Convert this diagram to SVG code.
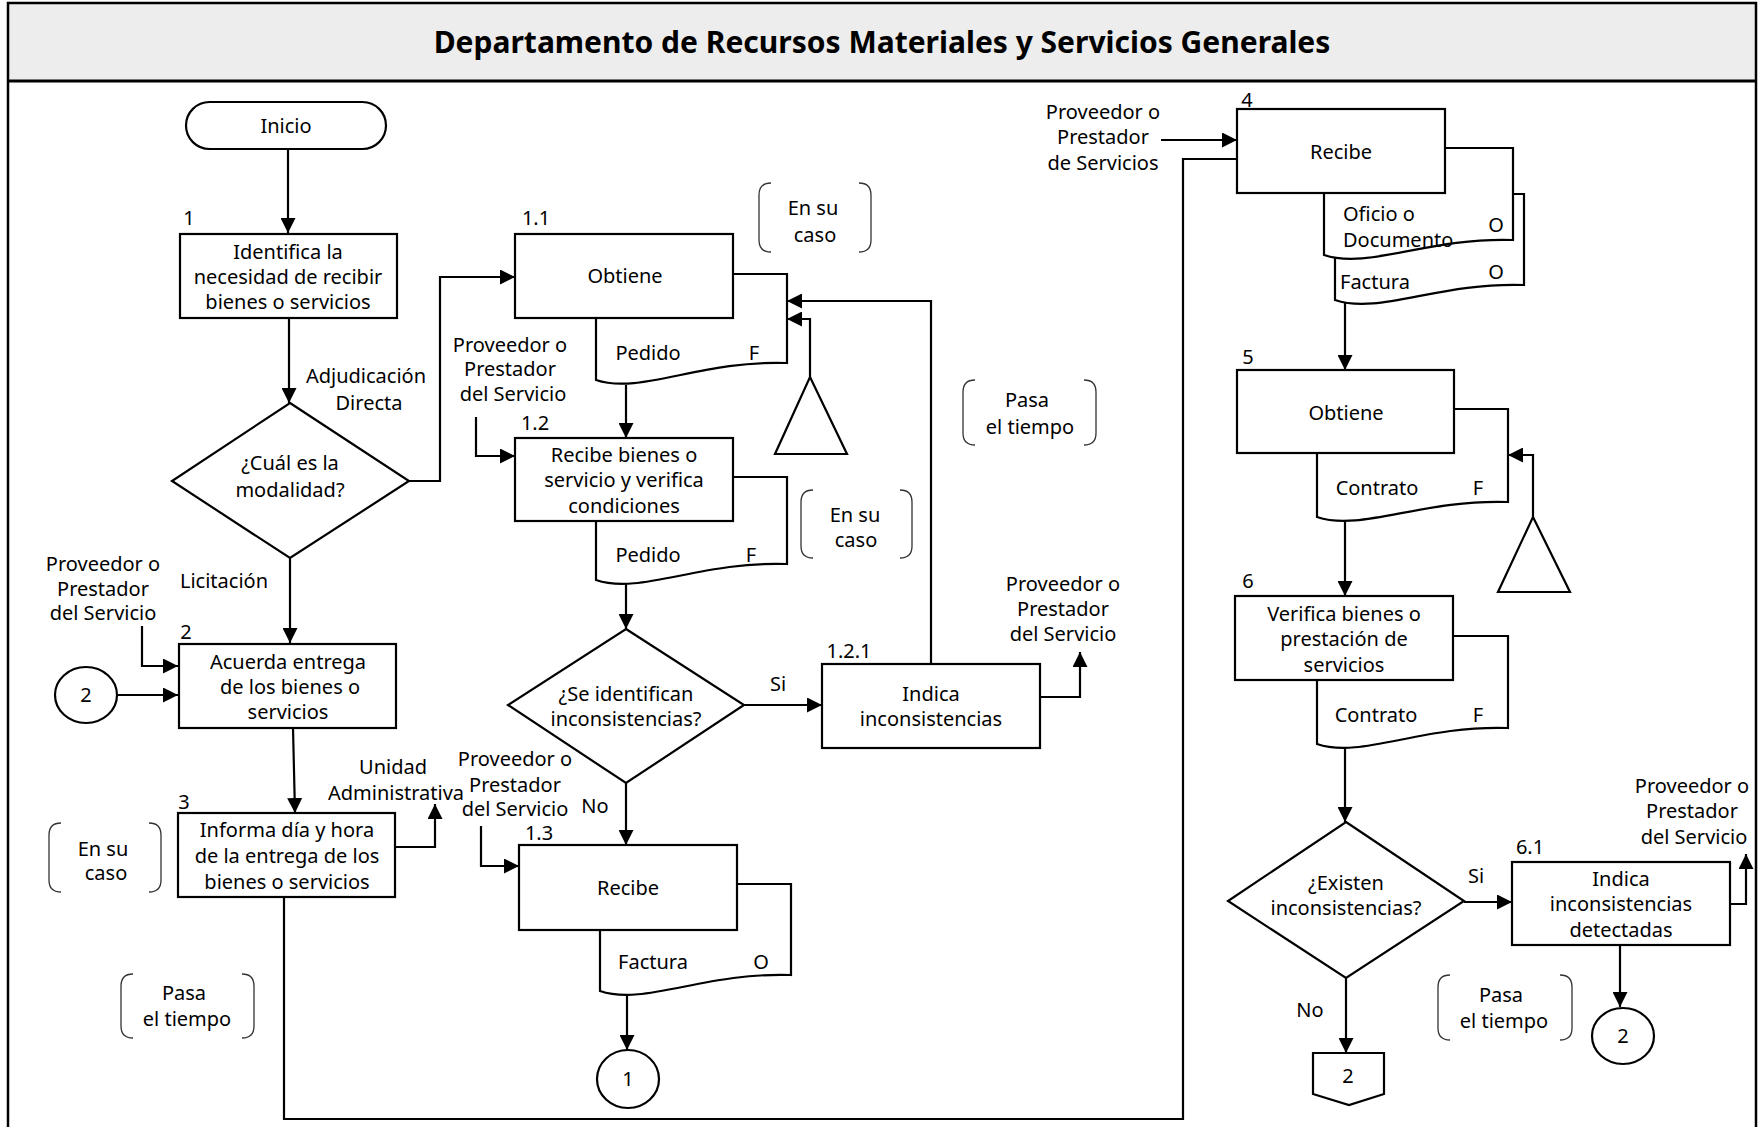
<svg xmlns="http://www.w3.org/2000/svg" width="1762" height="1127" viewBox="0 0 1762 1127">
  <style>
    .box { fill: #fff; stroke: #000; stroke-width: 2.2; }
    .doc { fill: #fff; stroke: #000; stroke-width: 2.2; }
    .conn { fill: none; stroke: #000; stroke-width: 2.2; }
    .arr { marker-end: url(#arrow); }
    .brk { fill: none; stroke: #333; stroke-width: 1.3; }
    text { font-family: "Noto Sans", "Open Sans", "DejaVu Sans", sans-serif; font-size: 20px; fill: #000; text-anchor: middle; }
    .st { text-anchor: start; }
    .title { font-size: 30px; font-weight: bold; }
  </style>
  <defs>
    <marker id="arrow" markerUnits="userSpaceOnUse" markerWidth="15" markerHeight="15" viewBox="0 0 15 15" refX="15" refY="7.5" orient="auto">
      <path d="M0,0 L15,7.5 L0,15 Z" fill="#000"/>
    </marker>
  </defs>

  <!-- frame and header band -->
  <g id="frame">
    <rect x="8" y="3" width="1748" height="78" fill="#ededed"/>
    <path d="M8,1130 V3 H1756 V1130" fill="none" stroke="#000" stroke-width="2.5"/>
    <line x1="8" y1="81" x2="1756" y2="81" stroke="#000" stroke-width="3"/>
    <text class="title" x="882" y="53">Departamento de Recursos Materiales y Servicios Generales</text>
  </g>

  <!-- connectors -->
  <g id="connectors">
    <path class="conn arr" d="M288,149 V233"/>
    <path class="conn arr" d="M289,318 V403"/>
    <path class="conn arr" d="M409,481 H440 V277 H515"/>
    <path class="conn arr" d="M290,558 V643"/>
    <path class="conn arr" d="M142,626 V666 H178"/>
    <path class="conn arr" d="M117,695 H178"/>
    <path class="conn arr" d="M293,728 L295,813"/>
    <path class="conn arr" d="M395,847 H435 V804"/>
    <path class="conn" d="M284,897 V1119 H1183 V159 H1237"/>
    <path class="conn arr" d="M626,385 V438"/>
    <path class="conn arr" d="M476,417 V456 H515"/>
    <path class="conn arr" d="M626,584 V629"/>
    <path class="conn arr" d="M744,705 H822"/>
    <path class="conn arr" d="M931,664 V301 H787"/>
    <path class="conn arr" d="M810,377 V319 H787"/>
    <path class="conn arr" d="M1040,697 H1080 V652"/>
    <path class="conn arr" d="M626,783 V845"/>
    <path class="conn arr" d="M481,826 V866 H519"/>
    <path class="conn arr" d="M627,995 V1050"/>
    <path class="conn arr" d="M1161,140 H1237"/>
    <path class="conn arr" d="M1345,303 V370"/>
    <path class="conn arr" d="M1533,517 V455 H1508"/>
    <path class="conn arr" d="M1345,520 V596"/>
    <path class="conn arr" d="M1345,747 V822"/>
    <path class="conn arr" d="M1464,902 H1512"/>
    <path class="conn arr" d="M1730,904 H1746 V854"/>
    <path class="conn arr" d="M1620,945 V1007"/>
    <path class="conn arr" d="M1346,978 V1053"/>
  </g>

  <!-- start -->
  <g id="inicio">
    <rect class="box" x="186" y="102" width="200" height="47" rx="23.5"/>
    <text x="286" y="133">Inicio</text>
  </g>

  <g id="step1">
    <text x="189" y="225">1</text>
    <rect class="box" x="180" y="234" width="217" height="84"/>
    <text x="288" y="259">Identifica la</text>
    <text x="288" y="284">necesidad de recibir</text>
    <text x="288" y="309">bienes o servicios</text>
  </g>

  <g id="decision-modalidad">
    <polygon class="box" points="290,403 409,481 290,558 172,481"/>
    <text x="290" y="470">¿Cuál es la</text>
    <text x="290" y="497">modalidad?</text>
    <text x="366" y="383">Adjudicación</text>
    <text x="369" y="410">Directa</text>
    <text x="224" y="588">Licitación</text>
  </g>

  <g id="actor-2">
    <text x="103" y="571">Proveedor o</text>
    <text x="103" y="596">Prestador</text>
    <text x="103" y="620">del Servicio</text>
  </g>

  <g id="connector-in-2">
    <ellipse class="box" cx="86" cy="695" rx="31" ry="28"/>
    <text x="86" y="702">2</text>
  </g>

  <g id="step2">
    <text x="186" y="639">2</text>
    <rect class="box" x="179" y="644" width="217" height="84"/>
    <text x="288" y="669">Acuerda entrega</text>
    <text x="290" y="694">de los bienes o</text>
    <text x="288" y="719">servicios</text>
  </g>

  <g id="step3">
    <text x="184" y="809">3</text>
    <rect class="box" x="178" y="813" width="217" height="84"/>
    <text x="287" y="837">Informa día y hora</text>
    <text x="287" y="863">de la entrega de los</text>
    <text x="287" y="889">bienes o servicios</text>
    <text x="393" y="774">Unidad</text>
    <text x="396" y="800">Administrativa</text>
  </g>

  <g id="note-en-su-caso-1">
    <path class="brk" d="M61,823 Q49,823 49,835 V880 Q49,892 61,892"/>
    <path class="brk" d="M149,823 Q161,823 161,835 V880 Q161,892 149,892"/>
    <text x="103" y="856">En su</text>
    <text x="106" y="880">caso</text>
  </g>

  <g id="note-pasa-tiempo-1">
    <path class="brk" d="M133,974 Q121,974 121,986 V1026 Q121,1038 133,1038"/>
    <path class="brk" d="M242,974 Q254,974 254,986 V1026 Q254,1038 242,1038"/>
    <text x="184" y="1000">Pasa</text>
    <text x="187" y="1026">el tiempo</text>
  </g>

  <g id="step1-1">
    <text x="536" y="225">1.1</text>
    <path class="doc" d="M596,274 H787 V363 C701,360 640,395 596,380 Z"/>
    <rect class="box" x="515" y="234" width="218" height="84"/>
    <text x="625" y="283">Obtiene</text>
    <text x="648" y="360">Pedido</text>
    <text x="754" y="360">F</text>
  </g>

  <g id="archive-1">
    <polygon class="box" points="810,377 847,454 775,454"/>
  </g>

  <g id="note-en-su-caso-2">
    <path class="brk" d="M771,183 Q759,183 759,195 V240 Q759,252 771,252"/>
    <path class="brk" d="M859,183 Q871,183 871,195 V240 Q871,252 859,252"/>
    <text x="813" y="215">En su</text>
    <text x="815" y="242">caso</text>
  </g>

  <g id="actor-1-2">
    <text x="510" y="352">Proveedor o</text>
    <text x="510" y="376">Prestador</text>
    <text x="513" y="401">del Servicio</text>
  </g>

  <g id="step1-2">
    <text x="535" y="430">1.2</text>
    <path class="doc" d="M596,477 H787 V564 C701,561 640,595 596,580 Z"/>
    <rect class="box" x="515" y="438" width="218" height="83"/>
    <text x="624" y="462">Recibe bienes o</text>
    <text x="624" y="487">servicio y verifica</text>
    <text x="624" y="513">condiciones</text>
    <text x="648" y="562">Pedido</text>
    <text x="751" y="562">F</text>
  </g>

  <g id="note-en-su-caso-3">
    <path class="brk" d="M813,490 Q801,490 801,502 V546 Q801,558 813,558"/>
    <path class="brk" d="M900,490 Q912,490 912,502 V546 Q912,558 900,558"/>
    <text x="855" y="522">En su</text>
    <text x="856" y="547">caso</text>
  </g>

  <g id="note-pasa-tiempo-2">
    <path class="brk" d="M975,380 Q963,380 963,392 V433 Q963,445 975,445"/>
    <path class="brk" d="M1084,380 Q1096,380 1096,392 V433 Q1096,445 1084,445"/>
    <text x="1027" y="407">Pasa</text>
    <text x="1030" y="434">el tiempo</text>
  </g>

  <g id="decision-inconsistencias">
    <polygon class="box" points="626,629 744,705 626,783 508,705"/>
    <text x="626" y="701">¿Se identifican</text>
    <text x="626" y="726">inconsistencias?</text>
    <text x="778" y="691">Si</text>
    <text x="595" y="813">No</text>
  </g>

  <g id="step1-2-1">
    <text x="849" y="658">1.2.1</text>
    <rect class="box" x="822" y="664" width="218" height="84"/>
    <text x="931" y="701">Indica</text>
    <text x="931" y="726">inconsistencias</text>
  </g>

  <g id="actor-1-2-1">
    <text x="1063" y="591">Proveedor o</text>
    <text x="1063" y="616">Prestador</text>
    <text x="1063" y="641">del Servicio</text>
  </g>

  <g id="actor-1-3">
    <text x="515" y="766">Proveedor o</text>
    <text x="515" y="792">Prestador</text>
    <text x="515" y="816">del Servicio</text>
  </g>

  <g id="step1-3">
    <text x="539" y="840">1.3</text>
    <path class="doc" d="M600,884 H791 V975 C705,972 644,1006 600,991 Z"/>
    <rect class="box" x="519" y="845" width="218" height="85"/>
    <text x="628" y="895">Recibe</text>
    <text x="653" y="969">Factura</text>
    <text x="761" y="969">O</text>
  </g>

  <g id="connector-out-1">
    <ellipse class="box" cx="628" cy="1079" rx="31" ry="29"/>
    <text x="628" y="1086">1</text>
  </g>

  <g id="actor-4">
    <text x="1103" y="119">Proveedor o</text>
    <text x="1103" y="144">Prestador</text>
    <text x="1103" y="170">de Servicios</text>
  </g>

  <g id="step4">
    <text x="1247" y="107">4</text>
    <path class="doc" d="M1335,194 H1524 V285 C1439,282 1379,315 1335,300 Z"/>
    <path class="doc" d="M1324,148 H1513 V240 C1428,237 1368,270 1324,255 Z"/>
    <rect class="box" x="1237" y="109" width="208" height="84"/>
    <text x="1341" y="159">Recibe</text>
    <text class="st" x="1343" y="221">Oficio o</text>
    <text class="st" x="1343" y="247">Documento</text>
    <text x="1496" y="232">O</text>
    <text class="st" x="1340" y="289">Factura</text>
    <text x="1496" y="279">O</text>
  </g>

  <g id="step5">
    <text x="1248" y="364">5</text>
    <path class="doc" d="M1317,409 H1508 V502 C1422,499 1361,532 1317,517 Z"/>
    <rect class="box" x="1237" y="370" width="217" height="83"/>
    <text x="1346" y="420">Obtiene</text>
    <text x="1377" y="495">Contrato</text>
    <text x="1478" y="495">F</text>
  </g>

  <g id="archive-5">
    <polygon class="box" points="1533,517 1570,592 1498,592"/>
  </g>

  <g id="step6">
    <text x="1248" y="588">6</text>
    <path class="doc" d="M1317,636 H1508 V728 C1422,725 1361,759 1317,744 Z"/>
    <rect class="box" x="1235" y="596" width="218" height="84"/>
    <text x="1344" y="621">Verifica bienes o</text>
    <text x="1344" y="646">prestación de</text>
    <text x="1344" y="672">servicios</text>
    <text x="1376" y="722">Contrato</text>
    <text x="1478" y="722">F</text>
  </g>

  <g id="decision-existen">
    <polygon class="box" points="1346,822 1464,901 1346,978 1228,901"/>
    <text x="1346" y="890">¿Existen</text>
    <text x="1346" y="915">inconsistencias?</text>
    <text x="1476" y="883">Si</text>
    <text x="1310" y="1017">No</text>
  </g>

  <g id="step6-1">
    <text x="1530" y="854">6.1</text>
    <rect class="box" x="1512" y="862" width="218" height="83"/>
    <text x="1621" y="886">Indica</text>
    <text x="1621" y="911">inconsistencias</text>
    <text x="1621" y="937">detectadas</text>
  </g>

  <g id="actor-6-1">
    <text x="1692" y="793">Proveedor o</text>
    <text x="1692" y="818">Prestador</text>
    <text x="1694" y="844">del Servicio</text>
  </g>

  <g id="note-pasa-tiempo-3">
    <path class="brk" d="M1450,975 Q1438,975 1438,987 V1028 Q1438,1040 1450,1040"/>
    <path class="brk" d="M1560,975 Q1572,975 1572,987 V1028 Q1572,1040 1560,1040"/>
    <text x="1501" y="1002">Pasa</text>
    <text x="1504" y="1028">el tiempo</text>
  </g>

  <g id="connector-out-2">
    <ellipse class="box" cx="1623" cy="1036" rx="31" ry="28"/>
    <text x="1623" y="1043">2</text>
  </g>

  <g id="offpage-2">
    <polygon class="box" points="1313,1053 1384,1053 1384,1094 1349,1105 1313,1094"/>
    <text x="1348" y="1083">2</text>
  </g>
</svg>
